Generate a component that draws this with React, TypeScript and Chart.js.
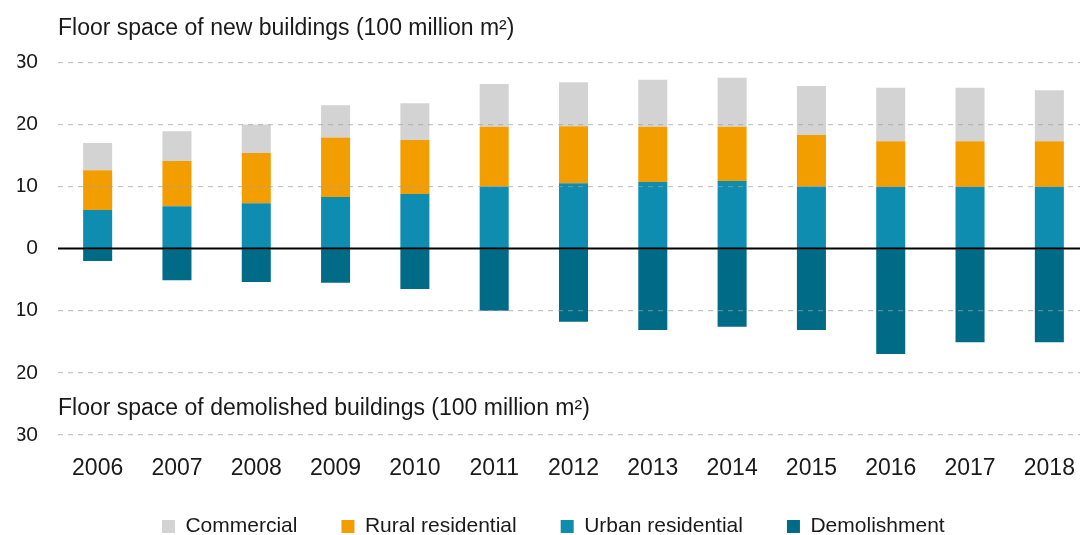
import React, { useEffect, useRef } from 'react';
import { Chart, registerables } from 'chart.js';

Chart.register(...registerables);

const years = ['2006', '2007', '2008', '2009', '2010', '2011', '2012', '2013', '2014', '2015', '2016', '2017', '2018'];
const urbanResidential = [6.2, 6.8, 7.3, 8.3, 8.8, 10.0, 10.5, 10.7, 10.9, 10.0, 9.9, 9.9, 9.9];
const ruralResidential = [6.4, 7.3, 8.1, 9.6, 8.7, 9.6, 9.2, 8.9, 8.7, 8.3, 7.4, 7.4, 7.4];
const commercial = [4.4, 4.8, 4.6, 5.2, 5.9, 6.9, 7.1, 7.6, 7.9, 7.9, 8.6, 8.6, 8.2];
const demolishment = [-2.0, -5.1, -5.4, -5.5, -6.5, -10.0, -11.8, -13.1, -12.6, -13.1, -17.0, -15.1, -15.1];

const newTitle = 'Floor space of new buildings (100 million m\u00B2)';
const demolishedTitle = 'Floor space of demolished buildings (100 million m\u00B2)';

const FONT = '"Liberation Sans", Arial, sans-serif';
const TEXT = '#1a1a1a';

const annotate = {
  id: 'annotate',
  afterDraw(chart: any) {
    const { ctx, chartArea, scales } = chart;
    const y = scales.y;
    const y0 = y.getPixelForValue(0);
    ctx.save();
    ctx.strokeStyle = '#000';
    ctx.lineWidth = 2;
    ctx.beginPath();
    ctx.moveTo(chartArea.left, y0);
    ctx.lineTo(chartArea.right, y0);
    ctx.stroke();
    ctx.fillStyle = TEXT;
    ctx.font = '23px ' + FONT;
    ctx.textAlign = 'left';
    ctx.textBaseline = 'alphabetic';
    ctx.fillText(newTitle, chartArea.left, y.getPixelForValue(30) - 27.3);
    ctx.fillText(demolishedTitle, chartArea.left, y.getPixelForValue(-25) + 11.7);
    ctx.restore();
  },
};

export default function App() {
  const ref = useRef<HTMLCanvasElement>(null);
  useEffect(() => {
    if (!ref.current) return;
    const chart = new Chart(ref.current, {
      type: 'bar',
      data: {
        labels: years,
        datasets: [
          { label: 'Commercial', data: commercial, backgroundColor: '#D3D3D3', order: 3 },
          { label: 'Rural residential', data: ruralResidential, backgroundColor: '#F39E00', order: 2 },
          { label: 'Urban residential', data: urbanResidential, backgroundColor: '#0E8DB1', order: 1 },
          { label: 'Demolishment', data: demolishment, backgroundColor: '#006B87', order: 0 },
        ].map((d) => ({ ...d, borderWidth: 0, barPercentage: 0.366, categoryPercentage: 1 })),
      },
      options: {
        responsive: false,
        animation: false,
        devicePixelRatio: 1,
        layout: { padding: { left: 17.6, top: 62.3, right: 0, bottom: 0 } },
        plugins: {
          legend: {
            position: 'bottom',
            labels: {
              boxWidth: 13,
              boxHeight: 13,
              padding: 44,
              color: TEXT,
              font: { family: FONT, size: 21 },
              sort: (a: any, b: any) => a.datasetIndex - b.datasetIndex,
            },
          },
          tooltip: { enabled: false },
        },
        scales: {
          x: {
            stacked: true,
            grid: { display: false },
            border: { display: false },
            ticks: {
              color: TEXT,
              font: { family: FONT, size: 23 },
              padding: -47.6,
              mirror: true,
              maxRotation: 0,
              autoSkip: false,
            },
            afterFit: (s: any) => {
              s.height = 37.2;
            },
          },
          y: {
            stacked: true,
            min: -30,
            max: 30,
            ticks: {
              stepSize: 10,
              padding: 20,
              color: TEXT,
              font: { family: FONT, size: 21 },
              callback: (v: any) => String(Math.abs(Number(v))),
            },
            grid: {
              drawTicks: false,
              lineWidth: 1.2,
              z: 1,
              color: (c: any) => (c.tick && c.tick.value === 0 ? 'rgba(0,0,0,0)' : 'rgba(160,160,160,0.6)'),
            },
            border: { display: false, dash: [5, 5] },
            afterFit: (s: any) => {
              s.width = 40.4;
            },
          },
        },
      } as any,
      plugins: [annotate],
    });
    return () => chart.destroy();
  }, []);
  return (
    <div style={{ width: 1080, height: 535, overflow: 'hidden', background: '#fff' }}>
      <style>{'body{margin:0}'}</style>
      <canvas ref={ref} width={1089} height={547} style={{ display: 'block' }} />
    </div>
  );
}
